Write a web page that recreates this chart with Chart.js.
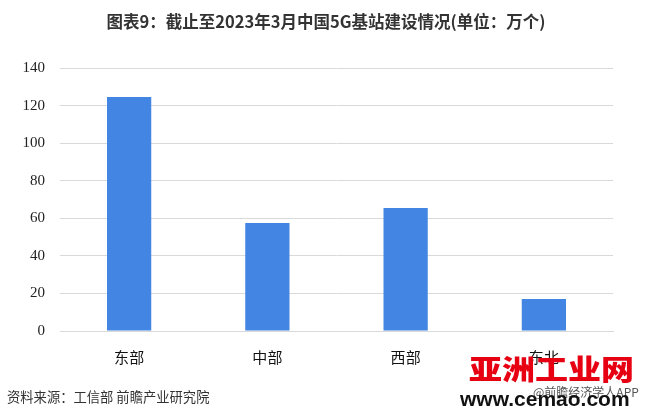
<!DOCTYPE html>
<html>
<head>
<meta charset="utf-8">
<script src="https://cdn.jsdelivr.net/npm/chart.js@4/dist/chart.umd.min.js"></script>
<style>
    html, body { margin: 0; padding: 0; background: #fff; }
    #wrap { position: relative; width: 649px; height: 416px; overflow: hidden; }
    #title { position: absolute; left: 0; width: 652px; top: 9px; text-align: center;
        font: bold 16.5px "Noto Sans CJK SC", sans-serif; color: #333; }
    #source { position: absolute; left: 7px; top: 387px; font: 13.3px "Noto Sans CJK SC", sans-serif; color: #333; }
    #logo { position: absolute; left: 469px; top: 348px; font: 900 33px "Noto Sans CJK SC", sans-serif;
        color: #e60012; transform: scaleY(0.85); transform-origin: top left; }
    #app { position: absolute; left: 533px; top: 383px; font: 12px "Noto Sans CJK SC", sans-serif; color: #555; }
    #site { position: absolute; left: 460px; top: 387px; font: bold 21px "Liberation Sans", sans-serif; color: #111; }
</style>
</head>
<body>
<div id="wrap">
    <canvas id="chart" width="649" height="416"></canvas>
    <div id="title">图表9：截止至2023年3月中国5G基站建设情况(单位：万个)</div>
    <div id="source">资料来源：工信部 前瞻产业研究院</div>
    <div id="logo">亚洲工业网</div>
    <div id="app">@前瞻经济学人APP</div>
    <div id="site">www.cemao.com</div>
</div>
<script>
// data
const regions = ['东部', '中部', '西部', '东北'];
const stations = [124.5, 57.5, 65.5, 17];
const yTicks = [0, 20, 40, 60, 80, 100, 120, 140];

const ctx = document.getElementById('chart').getContext('2d');
new Chart(ctx, {
    type: 'bar',
    data: {
        labels: regions,
        datasets: [{
            data: stations,
            backgroundColor: '#4285e3',
            barPercentage: 0.64,
            categoryPercentage: 0.5
        }]
    },
    options: {
        responsive: false,
        animation: false,
        layout: { padding: { top: 68, right: 36, left: 0, bottom: 0 } },
        plugins: { legend: { display: false }, tooltip: { enabled: false } },
        scales: {
            x: {
                grid: { display: false },
                border: { color: '#d9d9d9', width: 1 },
                ticks: { color: '#111', padding: 9, font: { size: 15, family: '"Noto Sans CJK SC", sans-serif' } },
                afterFit: function(scale) { scale.height = 85; }
            },
            y: {
                min: 0,
                max: 140,
                afterBuildTicks: function(scale) { scale.ticks = yTicks.map(v => ({ value: v })); },
                grid: { color: '#d9d9d9', drawTicks: false, lineWidth: 1 },
                border: { display: false },
                ticks: { color: '#222', padding: 15, font: { size: 15, family: '"Liberation Serif", serif' } },
                afterFit: function(scale) { scale.width = 60; }
            }
        }
    }
});
</script>
</body>
</html>
